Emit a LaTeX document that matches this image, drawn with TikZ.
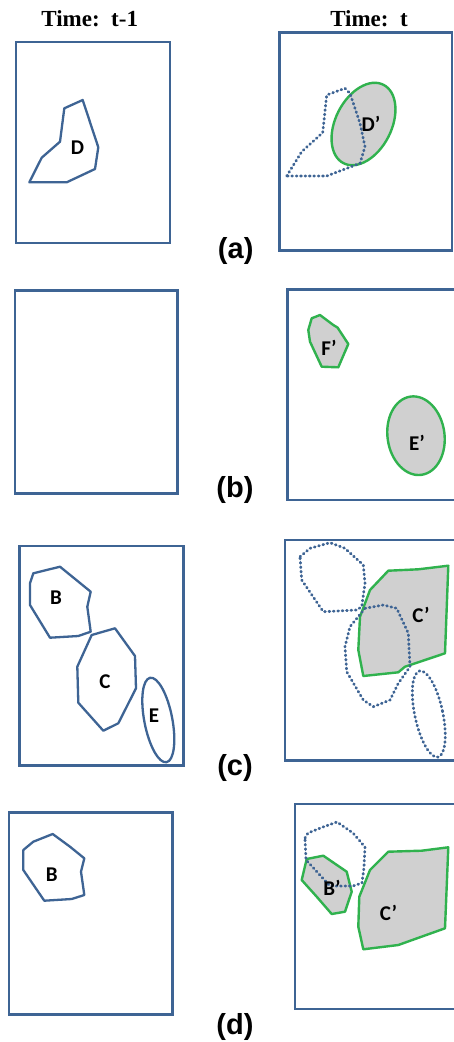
\documentclass[tikz,border=0pt]{standalone}
\usepackage{fontspec}
\setmainfont{Liberation Serif}
\newfontfamily\lblfont{Carlito}
\newfontfamily\capfont{Liberation Sans}
\definecolor{myblue}{RGB}{62,100,148}
\definecolor{mygreen}{RGB}{48,178,78}
\definecolor{mygray}{RGB}{208,208,208}
\tikzset{
  frame/.style={draw=myblue, line width=2.5pt},
  oldblob/.style={draw=myblue, line width=2.3pt, line join=round},
  dotblob/.style={draw=myblue, line width=2.8pt, line cap=round, line join=round, dash pattern=on 0.8pt off 3.6pt},
  newblob/.style={draw=mygreen, fill=mygray, line width=2.4pt, line join=round},
  lbl/.style={font=\lblfont\bfseries\fontsize{21}{21}\selectfont, inner sep=0pt},
  panel/.style={font=\capfont\bfseries\fontsize{29}{29}\selectfont, inner sep=0pt},
  head/.style={font=\bfseries\fontsize{23}{23}\selectfont, inner sep=0pt, anchor=base}
}
\begin{document}
\begin{tikzpicture}[x=1pt,y=-1pt]
\useasboundingbox (0,0) rectangle (454,1042);
\fill[white] (0,0) rectangle (454,1042);

% headers
\node[head] (h1) at (89.7,26.5) {Time:\ \ t-1};
\node[head] (h2) at (369,26) {Time:\ \ t};

% ---------------- (a) ----------------
\draw[frame] (16,42) rectangle (170,243);
\draw[frame] (279.5,32.7) rectangle (452,250.7);
\draw[oldblob] (29.3,182.3) -- (41.7,157.7) -- (60,141.7) -- (64.3,108.3) -- (82.7,100) -- (98.3,147.3) -- (95,169) -- (66.7,182.3) -- cycle;
\node[lbl] (D) at (77.5,147.5) {D};
\draw[newblob] (363.5,124) ellipse [x radius=28pt, y radius=44pt, rotate=-27];
\draw[dotblob] (286.7,176) -- (301.7,151.7) -- (322.7,132.7) -- (326.7,95) -- (345,88.3) -- (350,93.3) -- (360,123.3) -- (365,146.7) -- (360,163.3) -- (326.7,176) -- cycle;
\node[lbl] (Dp) at (371,123.5) {D’};
\node[panel] (pa) at (235.7,250.5) {(a)};

% ---------------- (b) ----------------
\draw[frame] (15,290.7) rectangle (177.7,493.3);
\draw[frame] (287.7,289.3) rectangle (458,500);
\draw[newblob] (311.7,318.3) -- (320,315) -- (333.3,325) -- (337.5,327.5) -- (348.3,344) -- (338.3,367.3) -- (321.7,366.7) -- (310,341.7) -- (308.3,330) -- cycle;
\node[lbl] (Fp) at (329,347.5) {F’};
\draw[newblob] (416,435.7) ellipse [x radius=28.5pt, y radius=39.5pt, rotate=8];
\node[lbl] (Ep) at (417,443) {E’};
\node[panel] (pb) at (235,490) {(b)};

% ---------------- (c) ----------------
\draw[frame] (19.3,546) rectangle (183.3,765.7);
\draw[frame] (285,540) rectangle (458,760.7);
\draw[oldblob] (30,583.3) -- (33.3,573.3) -- (60,566.7) -- (90.7,591.7) -- (87.3,606.7) -- (90.7,631.7) -- (78.3,636) -- (50,637.7) -- (30,605) -- cycle;
\node[lbl] (B1) at (56,597.7) {B};
\draw[oldblob] (91.7,635) -- (115,628.3) -- (135,656) -- (136,688.3) -- (118.3,723.3) -- (103.3,730.7) -- (78.3,702.7) -- (77.3,666.7) -- cycle;
\node[lbl] (C1) at (105,681.7) {C};
\draw[oldblob] (158.3,720) ellipse [x radius=14pt, y radius=43pt, rotate=11];
\node[lbl] (E1) at (154,716) {E};
\draw[newblob] (360,616.7) -- (370,590) -- (388.3,570.7) -- (418.3,569.3) -- (448.3,565.7) -- (445,653.3) -- (405,666.7) -- (398.3,672.3) -- (363.3,676) -- (358.3,650) -- cycle;
\draw[dotblob] (300,556.7) -- (310,548.3) -- (330,542.7) -- (345,548.3) -- (363.3,565) -- (365,583.3) -- (361.7,606.7) -- (356.7,610) -- (323.3,611.7) -- (301.7,580) -- cycle;
\draw[dotblob] (365,608.3) -- (383.3,605) -- (396.7,608.3) -- (408.3,633.3) -- (410,666.7) -- (398.3,683.3) -- (390,700) -- (373.3,706.7) -- (363.3,700) -- (346.7,671.7) -- (345,646.7) -- (350,626.7) -- cycle;
\draw[dotblob] (428.8,714) ellipse [x radius=14pt, y radius=44pt, rotate=12];
\node[lbl] (Cp1) at (421,615) {C’};
\node[panel] (pc) at (235,768.3) {(c)};

% ---------------- (d) ----------------
\draw[frame] (9,812.3) rectangle (172.7,1014.3);
\draw[frame] (295,804) rectangle (458,1009);
\draw[oldblob] (23.3,850) -- (33.3,841.7) -- (52.7,834) -- (70,846.7) -- (84.3,858.3) -- (81,871.7) -- (84.3,895) -- (71.7,899) -- (44.3,900.7) -- (23.3,870) -- cycle;
\node[lbl] (B2) at (51.7,875) {B};
\draw[newblob] (306.7,859) -- (323.3,855.7) -- (346.7,871.7) -- (351.7,891.7) -- (345,911.7) -- (331.7,914) -- (316.7,896.7) -- (301.7,880) -- cycle;
\draw[newblob] (370,870) -- (388.3,851.7) -- (421.7,850.7) -- (448.3,847.3) -- (445,928.3) -- (398.3,945) -- (363.3,949.3) -- (358.3,926.7) -- (359.3,896.7) -- cycle;
\draw[dotblob] (305,838) -- (308,833) -- (323,827) -- (337,822) -- (353,833) -- (365,847) -- (364,867) -- (362,883) -- (353,886) -- (330,886) -- (306,860) -- cycle;
\node[lbl] (Bp) at (332,888.3) {B’};
\node[lbl] (Cp2) at (388.5,913.3) {C’};
\node[panel] (pd) at (235,1027.3) {(d)};
\end{tikzpicture}
\end{document}
